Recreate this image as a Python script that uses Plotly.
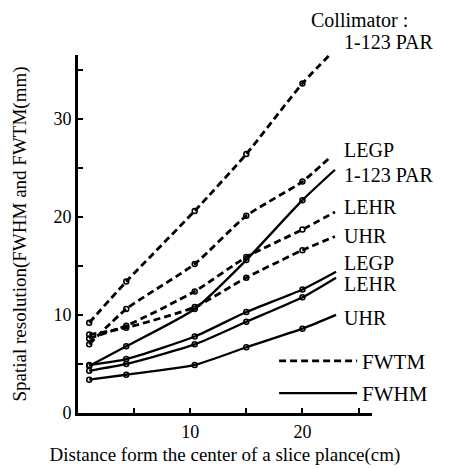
import plotly.graph_objects as go

# Data
distance = [1, 4.3, 10.4, 15, 20]          # measured positions (cm)
line_end = [23.2, 22.4, 22.9, 22.9, 22.9, 23.0, 23.0, 23.0]

collimators = ["1-123 PAR", "LEGP", "LEHR", "UHR"]

fwtm_par = [9.2, 13.4, 20.6, 26.4, 33.6]
fwtm_legp = [7.0, 10.6, 15.2, 20.1, 23.6]
fwtm_lehr = [7.6, 8.9, 12.4, 15.9, 18.7]
fwtm_uhr = [8.0, 8.7, 10.8, 13.8, 16.6]
fwtm_end = [37.4, 26.0, 20.5, 18.0]

fwhm_par = [4.8, 6.8, 10.6, 15.6, 21.7]
fwhm_legp = [4.9, 5.5, 7.8, 10.3, 12.6]
fwhm_lehr = [4.3, 5.0, 7.0, 9.3, 11.8]
fwhm_uhr = [3.4, 3.9, 4.9, 6.7, 8.6]
fwhm_end = [24.8, 14.4, 13.8, 10.0]

fwtm_label_y = [37.8, 26.8, 21.0, 18.0]
fwhm_label_y = [24.3, 15.3, 13.2, 9.7]

x_ticks = [5, 10, 15, 20, 25]
x_ticktext = ["", "10", "", "20", ""]
y_ticks = [0, 5, 10, 15, 20, 25, 30, 35]
y_ticktext = ["0", "", "10", "", "20", "", "30", ""]

X_MAX = 26.2
Y_MAX = 36.5

FONT = "Liberation Serif"
fig = go.Figure()

fwtm = [fwtm_par, fwtm_legp, fwtm_lehr, fwtm_uhr]
fwhm = [fwhm_par, fwhm_legp, fwhm_lehr, fwhm_uhr]

for i, (vals, end) in enumerate(zip(fwtm, fwtm_end)):
    fig.add_trace(go.Scatter(
        x=distance + [line_end[i]], y=vals + [end], mode="lines",
        line=dict(color="black", width=2.8, dash="7px,4px", shape="spline", smoothing=0.6),
        name="FWTM", legendgroup="a", showlegend=(i == 0), cliponaxis=False))
    fig.add_trace(go.Scatter(
        x=distance, y=vals, mode="markers",
        marker=dict(symbol="circle-open", size=5, color="black", line=dict(width=1.5)),
        showlegend=False))

for i, (vals, end) in enumerate(zip(fwhm, fwhm_end)):
    fig.add_trace(go.Scatter(
        x=distance + [line_end[4 + i]], y=vals + [end], mode="lines",
        line=dict(color="black", width=2.3, shape="spline", smoothing=0.6),
        name="FWHM", legendgroup="b", showlegend=(i == 0)))
    fig.add_trace(go.Scatter(
        x=distance, y=vals, mode="markers",
        marker=dict(symbol="circle-open", size=5, color="black", line=dict(width=1.5)),
        showlegend=False))

for name, yv in zip(collimators + collimators, fwtm_label_y + fwhm_label_y):
    fig.add_annotation(x=23.5 / X_MAX, y=yv / Y_MAX, xref="paper", yref="paper",
                       text=name, showarrow=False, xanchor="left", yanchor="middle",
                       font=dict(family=FONT, size=20, color="black"))

fig.add_annotation(x=0.959, y=1.098, xref="paper", yref="paper",
                   text="Collimator :", showarrow=False,
                   xanchor="center", yanchor="middle",
                   font=dict(family=FONT, size=20, color="black"))

fig.update_layout(
    width=453, height=469,
    margin=dict(l=78, r=81, t=55, b=56),
    paper_bgcolor="white", plot_bgcolor="white",
    font=dict(family=FONT, size=18, color="black"),
    showlegend=True,
    legend=dict(x=0.667, y=0.1, xanchor="left", yanchor="middle",
                itemwidth=78, tracegroupgap=2, bgcolor="rgba(0,0,0,0)",
                font=dict(family=FONT, size=21)),
    xaxis=dict(range=[0, X_MAX], showgrid=False, zeroline=False, automargin=False,
               showline=True, linewidth=3, linecolor="black",
               ticks="inside", ticklen=5, tickwidth=2, tickcolor="black",
               tickvals=x_ticks, ticktext=x_ticktext,
               tickfont=dict(family=FONT, size=18),
               title=dict(text="Distance form the center of a slice plance(cm)",
                          font=dict(family=FONT, size=19), standoff=8)),
    yaxis=dict(range=[0, Y_MAX], showgrid=False, zeroline=False, automargin=False,
               showline=True, linewidth=3, linecolor="black",
               ticks="inside", ticklen=5, tickwidth=2, tickcolor="black",
               tickvals=y_ticks, ticktext=y_ticktext,
               tickfont=dict(family=FONT, size=18),
               title=dict(text="Spatial resolution(FWHM and FWTM(mm)",
                          font=dict(family=FONT, size=19), standoff=22)),
)

fig.write_html("out.html")
